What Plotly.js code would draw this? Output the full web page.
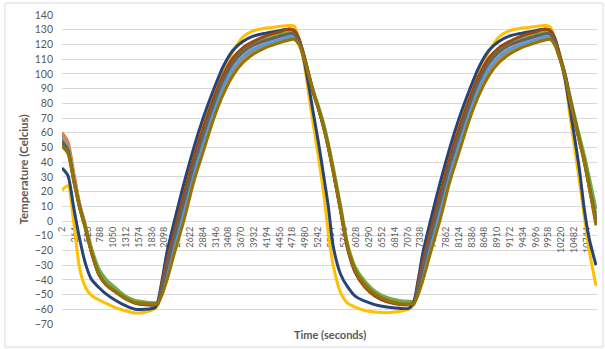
<!DOCTYPE html>
<html>
<head>
<meta charset="utf-8">
<script src="https://cdn.plot.ly/plotly-3.0.1.min.js"></script>
<style>html,body{margin:0;padding:0;background:#fff;}#chart{width:605px;height:349px;}</style>
</head>
<body>
<div id="chart"></div>
<script>
// Time axis (seconds)
const timeSec = [0,120,240,360,480,600,750,900,1100,1300,
  1500,1700,1900,1960,2050,2150,2300,2500,2700,2900,
  3100,3300,3500,3700,3900,4150,4400,4650,4750,4850,
  4950,5050,5150,5250,5350,5450,5550,5700,5850,6000,
  6200,6400,6650,6900,7100,7200,7290,7390,7540,7740,
  7940,8140,8340,8540,8740,8940,9140,9390,9640,9890,
  9990,10090,10190,10290,10390,10490,10590,10690,10790,10930];

// Category tick labels
const tickLabels = ["2","264","526","788","1050","1312","1574","1836","2098","2360","2622","2884","3146","3408","3670","3932","4194","4456","4718","4980","5242","5504","5766","6028","6290","6552","6814","7076","7338","7600","7862","8124","8386","8648","8910","9172","9434","9696","9958","10220","10482","10744"];
const tickValues = [2,264,526,788,1050,1312,1574,1836,2098,2360,2622,2884,3146,3408,3670,3932,4194,4456,4718,4980,5242,5504,5766,6028,6290,6552,6814,7076,7338,7600,7862,8124,8386,8648,8910,9172,9434,9696,9958,10220,10482,10744];
const yTicks = [-70,-60,-50,-40,-30,-20,-10,0,10,20,30,40,50,60,70,80,90,100,110,120,130,140];

// Series (temperature, Celsius)
const series1 = [58,52,31,11,-4,-20,-35,-42.5,-48,-52.5,
  -55.5,-56.5,-57,-56.5,-45.8,-33.4,-14.3,9.8,35,56,
  76,92.7,105,112.6,117.4,120.8,123.2,125.5,125.5,121.5,
  111.5,98.5,86.5,76.5,65,51,34.5,8.5,-18.5,-33.5,
  -43.5,-49.5,-54,-56,-56.5,-56,-45.8,-33.4,-14.3,9.8,
  35,56,76,92.7,105,112.6,117.4,120.8,123.2,125.5,
  125.5,120.5,110.5,100,84.5,69.5,55.5,41.5,25,2];
const series2 = [60,54,33,12,-3,-19,-34,-42,-47.5,-52,
  -55,-56,-56.5,-56,-48.2,-37.2,-18.7,4.8,30.5,51.5,
  72,88.9,101.5,109.7,114.9,119,121.8,124,124,120.5,
  111,98,86.5,77,65.5,51.5,35,9,-18,-33,
  -43,-49,-53.5,-55.5,-56,-55.5,-48.2,-37.2,-18.7,4.8,
  30.5,51.5,72,88.9,101.5,109.7,114.9,119,121.8,124,
  124,120,110.5,100,85,70,56,42,26,3];
const series3 = [57,51,30,11,-4,-20,-35,-42,-47.5,-52,
  -55,-56,-56.5,-56,-45.2,-32.4,-13.2,11,36.2,57.2,
  77,93.6,105.8,113.3,118,121.5,124,126.4,126.2,122,
  112,99,87,77,65.5,51.5,35,8.5,-18,-33,
  -43,-49,-53.5,-55.5,-56,-55.5,-45.2,-32.4,-13.2,11,
  36.2,57.2,77,93.6,105.8,113.3,118,121.5,124,126.4,
  126.2,121,111,100.5,85,70,56,42,26,3];
const series4 = [21,24,-1,-32,-45,-50.5,-53.5,-56,-59,-61,
  -62.5,-62,-59.5,-57,-42,-26,-5,21,45,66,
  85,101,115,125,129,131,132,132.8,132.5,124,
  108,86,64,43,20,-8,-30,-48.5,-56,-58.5,
  -60.8,-61.8,-62.3,-61.5,-60,-57,-42,-26,-5,21,
  45,66,85,101,115,125,129,131,132,132.8,
  132,124,113,100,73,50,27,3,-20,-44];
const series5 = [56,50,29,10,-4.5,-20.5,-35.5,-42.5,-48,-52.5,
  -55.5,-56.5,-57,-56.5,-47,-35.3,-16.5,7.3,32.8,53.8,
  74,90.8,103.3,111.1,116.1,119.7,122.4,124.8,124.6,121,
  111,98,86,76,64.5,50.5,34,8,-18.5,-33.5,
  -43.5,-49.5,-54,-56,-56.5,-56,-47,-35.3,-16.5,7.3,
  32.8,53.8,74,90.8,103.3,111.1,116.1,119.7,122.4,124.8,
  124.6,120,110.5,100,84.5,69.5,55.5,41.5,25,2];
const series6 = [55,49,29,11,-3,-18,-32,-39.5,-45.5,-51,
  -54,-55,-55.5,-55.5,-42.8,-28.6,-8.8,16,40.8,61.8,
  81,97.4,109.2,116.2,120.5,123.5,126,128.2,128,123,
  113,100,88,78,67,53,37,11,-16,-31,
  -41,-47.5,-52,-54,-54.5,-54.5,-42.8,-28.6,-8.8,16,
  40.8,61.8,81,97.4,109.2,116.2,120.5,123.5,126,128.2,
  128,122,112,101,86,72,58,45,30,8];
const series7 = [36,31,9,-12,-29,-39.5,-45,-49.5,-54,-57.5,
  -60,-60,-59,-55,-40,-21,0,26,50,71,
  89,105,116,122,125.5,127.5,129,130.5,129.5,123,
  110,92,72,53,32,10,-17,-36,-45,-51,
  -54.5,-56.8,-58.5,-59.3,-59.3,-55,-40,-21,0,26,
  50,71,89,105,116,122,125.5,127.5,129,130.5,
  129.5,124,112,97,78,57,35,8,-12,-30];
const series8 = [54,48,28,9.5,-5,-21,-36,-43.5,-48.5,-53,
  -56,-57,-57,-56.5,-41.6,-26.7,-6.6,18.5,43,64,
  83,99.3,110.9,117.7,121.7,125.5,128,130.3,129.5,124,
  113,100,87,76,64,50,33.5,7,-19.5,-35,
  -45,-51,-55,-56.8,-57,-56.5,-41.6,-26.7,-6.6,18.5,
  43,64,83,99.3,110.9,117.7,121.7,125.5,128,130.3,
  129.5,123.5,112,100,84,69,54.5,40,23,-1];
const series9 = [53,47.5,27.5,9.5,-5,-21,-36,-43,-48,-52.5,
  -55.5,-56.5,-56.5,-56,-44,-30.5,-11,13.5,38.5,59.5,
  79,95.5,107.5,114.8,119.3,122.5,125,127.3,127,122.5,
  112,99,87,76.5,65,51,34.5,8,-19,-33.5,
  -43.5,-49.5,-54,-56,-56.5,-56,-44,-30.5,-11,13.5,
  38.5,59.5,79,95.5,107.5,114.8,119.3,122.5,125,127.3,
  127,121.5,111,100,84.5,69.5,55,41,24.5,0];
const series10 = [51,46,27,9,-5,-21,-36,-43,-48,-52.5,
  -55.5,-56,-56.5,-56,-50,-40,-22,1,27,48,
  69,86,99,107.5,113,117.5,120.5,123,123.5,120,
  111,99,87,76,64,50,34,8,-18,-33,
  -43.5,-49.5,-54,-56,-56.5,-56,-50,-40,-22,1,
  27,48,69,86,99,107.5,113,117.5,120.5,123,
  123.5,119.5,110,99,83,68,54,40,23,-3];

const seriesList = [series1,series2,series3,series4,series5,series6,series7,series8,series9,series10];
const seriesNames = ["Series1","Series2","Series3","Series4","Series5","Series6","Series7","Series8","Series9","Series10"];
const seriesColors = ["#4472C4","#ED7D31","#A5A5A5","#FFC000","#5B9BD5","#70AD47","#264478","#9E480E","#636363","#997300"];

const traces = seriesList.map((vals, i) => ({
  type: "scatter",
  mode: "lines",
  name: seriesNames[i],
  x: timeSec,
  y: vals,
  line: {color: seriesColors[i], width: 3, shape: "spline", smoothing: 0.7},
  hoverinfo: "x+y+name"
}));

const layout = {
  width: 605, height: 349,
  margin: {l: 62, r: 8, t: 15, b: 25, pad: 0},
  paper_bgcolor: "#ffffff",
  plot_bgcolor: "#ffffff",
  showlegend: false,
  font: {family: "Lato, 'Open Sans', sans-serif", color: "#595959"},
  xaxis: {
    range: [0, 10950],
    anchor: "free",
    position: 70/210,
    tickmode: "array",
    tickvals: tickValues,
    ticktext: tickLabels,
    tickangle: -90,
    tickfont: {family: "Lato, sans-serif", size: 9, color: "#595959"},
    showgrid: false,
    zeroline: false,
    showline: false,
    ticks: "",
    ticklabelstandoff: 3,
    layer: "below traces",
    fixedrange: true
  },
  yaxis: {
    range: [-70, 140],
    tickmode: "array",
    tickvals: yTicks,
    tickfont: {family: "Lato, sans-serif", size: 10.5, color: "#595959"},
    showgrid: true,
    gridcolor: "#D9D9D9",
    gridwidth: 1,
    zeroline: false,
    showline: false,
    ticks: "",
    ticklabelstandoff: 8,
    layer: "below traces",
    automargin: false,
    title: {text: "<b>Temperature (Celcius)</b>", font: {family: "Lato, sans-serif", size: 11.5, color: "#595959"}, standoff: 3},
    fixedrange: true
  },
  annotations: [{
    xref: "paper", yref: "paper", x: 0.5, y: -10/309,
    xanchor: "center", yanchor: "middle",
    text: "<b>Time (seconds)</b>", showarrow: false,
    font: {family: "Lato, sans-serif", size: 11, color: "#595959"}
  }],
  shapes: [{
    type: "rect", xref: "paper", yref: "paper",
    x0: (5-62)/535, x1: (603-62)/535, y0: (324-347)/309, y1: (324-3)/309,
    line: {color: "#D9D9D9", width: 1}, fillcolor: "rgba(0,0,0,0)", layer: "below"
  }]
};

Plotly.newPlot("chart", traces, layout, {displayModeBar: false, staticPlot: true});
</script>
</body>
</html>
